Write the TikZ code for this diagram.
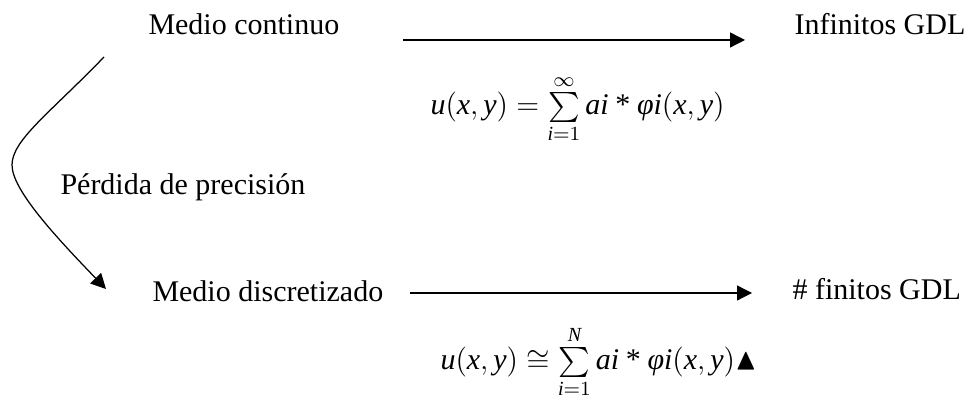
\documentclass[tikz,border=0pt]{standalone}
\usepackage{amsmath,amssymb}
\usepackage{fontspec}
\setmainfont{Liberation Serif}
\usetikzlibrary{arrows.meta}
\newcommand{\itx}[1]{\textit{#1}}
\newcommand{\por}{\mathbin{\textrm{*}}}
\begin{document}
\begin{tikzpicture}[x=0.4pt,y=-0.4pt,
    txt/.style={anchor=base west,inner sep=0pt,font=\fontsize{12}{14}\selectfont},
    flecha/.style={line width=0.5pt,-{Triangle[length=6pt,width=6pt]}}]
    \useasboundingbox (0,0) rectangle (970,410);
    % fila superior
    \node[txt] (mc) at (148,35) {Medio continuo};
    \node[txt] (inf) at (794,35) {Infinitos GDL};
    \coordinate (a1) at (403,40);
    \coordinate (b1) at (745,40);
    \draw[flecha] (a1) -- (b1);
    \node[txt] (f1) at (430,115) {$\itx{u}(\itx{x}, \itx{y}) = \sum\limits_{\itx{i}=1}^{\infty} \itx{ai}\por\itx{φi}(\itx{x}, \itx{y})$};
    % perdida
    \node[txt] (pp) at (60,195) {P\'erdida de precisi\'on};
    \coordinate (c0) at (104,57);
    \coordinate (cb) at (12,165);
    \coordinate (c1) at (106,289);
    \draw[flecha] (c0) .. controls (50,113) and (12,140) .. (cb)
        .. controls (12,190) and (56,237) .. (c1);
    % fila inferior
    \node[txt] (md) at (152,302) {Medio discretizado};
    \node[txt] (fin) at (792,300) {\# finitos GDL};
    \coordinate (a2) at (410,293);
    \coordinate (b2) at (752,293);
    \draw[flecha] (a2) -- (b2);
    \node[txt] (f2) at (440,370) {$\itx{u}(\itx{x}, \itx{y}) \cong \sum\limits_{\itx{i}=1}^{\itx{N}} \itx{ai}\por\itx{φi}(\itx{x}, \itx{y})\blacktriangle$};
\end{tikzpicture}
\end{document}
